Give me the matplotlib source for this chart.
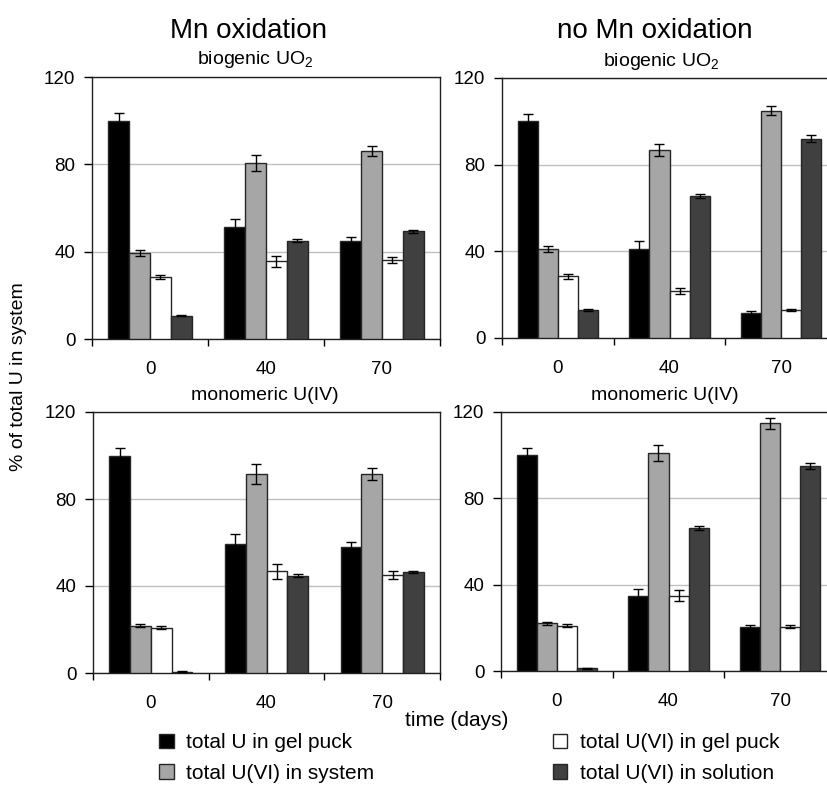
import matplotlib
matplotlib.use('Agg')
import matplotlib.pyplot as plt
from matplotlib.patches import Patch
import numpy as np

plt.rcParams['font.family'] = ['Liberation Sans', 'DejaVu Sans']
plt.rcParams['mathtext.fontset'] = 'custom'
plt.rcParams['mathtext.rm'] = 'Liberation Sans'
plt.rcParams['mathtext.it'] = 'Liberation Sans'

times = ['0', '40', '70']
series = ['total U in gel puck', 'total U(VI) in system',
          'total U(VI) in gel puck', 'total U(VI) in solution']
colors = ['#000000', '#a6a6a6', '#ffffff', '#404040']

# rows: series (gel puck U, U(VI) system, U(VI) gel puck, U(VI) solution); cols: days 0, 40, 70
bio_mn = [[100, 51.5, 45.0], [39.5, 80.5, 86.0], [28.5, 35.5, 36.3], [10.7, 45.1, 49.3]]
bio_mn_err = [[3.5, 3.6, 1.8], [1.4, 3.6, 2.4], [1.0, 2.5, 1.3], [0.3, 0.8, 0.8]]
bio_nomn = [[100, 41.2, 11.5], [41.0, 86.6, 105.0], [28.4, 21.7, 13.0], [12.9, 65.4, 92.0]]
bio_nomn_err = [[3.5, 3.4, 0.8], [1.3, 2.8, 2.3], [1.0, 1.6, 0.5], [0.3, 1.0, 1.7]]
mono_mn = [[100, 59.3, 58.1], [21.8, 91.4, 91.4], [20.9, 46.8, 45.0], [0.6, 44.8, 46.5]]
mono_mn_err = [[3.5, 4.4, 2.2], [0.8, 4.5, 2.7], [0.7, 3.5, 1.7], [0.1, 0.8, 0.6]]
mono_nomn = [[100, 34.9, 20.5], [22.1, 101.0, 114.8], [21.0, 34.9, 20.5], [1.2, 66.2, 94.9]]
mono_nomn_err = [[3.4, 2.9, 1.0], [0.8, 3.8, 2.5], [0.7, 2.6, 0.8], [0.1, 1.0, 1.5]]

fig = plt.figure(figsize=(8.27, 7.85), dpi=100)

panels = [
    ([92 / 827, 1 - 339 / 785, 348 / 827, 262 / 785], bio_mn, bio_mn_err, 'biogenic UO$_2$', 0.468),
    ([502 / 827, 1 - 338 / 785, 335 / 827, 260 / 785], bio_nomn, bio_nomn_err, 'biogenic UO$_2$', 0.475),
    ([93 / 827, 1 - 673 / 785, 347 / 827, 261 / 785], mono_mn, mono_mn_err, 'monomeric U(IV)', 0.496),
    ([501 / 827, 1 - 671 / 785, 335 / 827, 259 / 785], mono_nomn, mono_nomn_err, 'monomeric U(IV)', 0.49),
]

width = 0.18
offsets = [-1.5 * width, -0.5 * width, 0.5 * width, 1.5 * width]
centers = np.arange(len(times)) + 0.5

for rect, vals, errs, sub, tx in panels:
    ax = fig.add_axes(rect)
    for i in range(4):
        ax.bar(centers + offsets[i], vals[i], width, color=colors[i],
               edgecolor='#262626', linewidth=1.0, zorder=3,
               yerr=errs[i], capsize=3.5,
               error_kw=dict(ecolor='black', elinewidth=1.0, capthick=1.0, zorder=4))
    ax.set_xlim(0, 3)
    ax.set_ylim(0, 120)
    ax.set_yticks([0, 40, 80, 120])
    ax.yaxis.grid(True, color='#c0c0c0', linewidth=1.0, zorder=0)
    ax.set_axisbelow(True)
    ax.set_xticks([0, 1, 2, 3])
    ax.set_xticklabels([])
    ax.set_xticks(centers, minor=True)
    ax.set_xticklabels(times, minor=True)
    ax.tick_params(axis='x', which='major', direction='out', length=5, width=1)
    ax.tick_params(axis='x', which='minor', length=0, labelsize=13.5, pad=16)
    ax.tick_params(axis='y', direction='out', length=6, width=1, pad=6, labelsize=13.5)
    for s in ax.spines.values():
        s.set_color('#202020')
        s.set_linewidth(1.0)
    ax.set_title(sub, fontsize=14, pad=9, x=tx)

fig.text(249 / 827, 1 - 31 / 785, 'Mn oxidation', fontsize=20, ha='center', va='center')
fig.text(655 / 827, 1 - 31 / 785, 'no Mn oxidation', fontsize=20, ha='center', va='center')
fig.text(19 / 827, 1 - 377 / 785, '% of total U in system', fontsize=14,
         rotation=90, ha='center', va='center')
fig.text(457 / 827, 1 - 720 / 785, 'time (days)', fontsize=15, ha='center', va='center')

handles = [Patch(facecolor=c, edgecolor='#262626', linewidth=1.0) for c in colors]
fig.legend(handles, series, ncol=2, loc='center left', bbox_to_anchor=(149 / 827, 1 - 758 / 785),
           frameon=False, fontsize=15, handlelength=0.7, handleheight=0.7,
           handletextpad=0.6, columnspacing=8.55, labelspacing=0.55, borderpad=0)

fig.savefig('out.png', dpi=100)
